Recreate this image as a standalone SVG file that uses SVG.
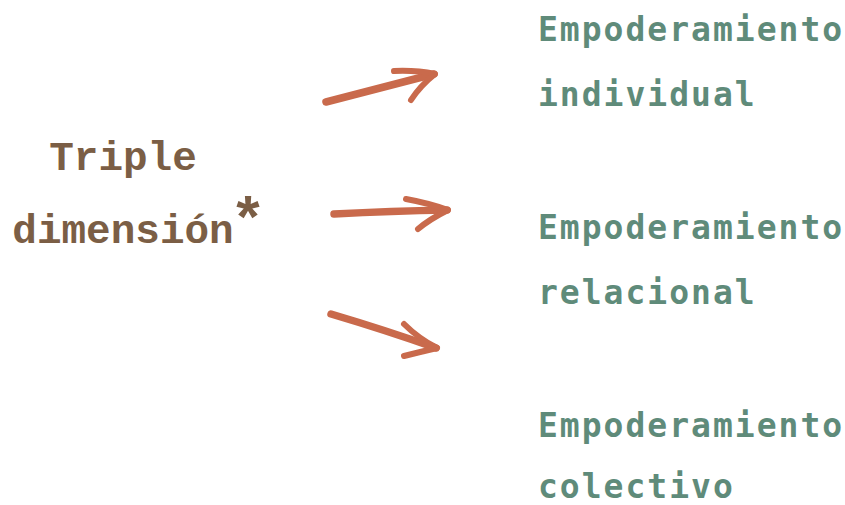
<svg xmlns="http://www.w3.org/2000/svg" width="845" height="505" viewBox="0 0 845 505">
  <style>
    .src { font-family: "Liberation Mono", "Courier New", monospace; font-weight: bold; font-size: 41px; fill: #7b5e45; }
    .star { font-size: 60px; }
    .dst { font-family: "DejaVu Sans Mono", "Liberation Mono", monospace; font-weight: bold; font-size: 33px; letter-spacing: 2px; fill: #5f8b7a; }
    .brush { fill: none; stroke: #c96a4c; stroke-width: 7.5; stroke-linecap: round; stroke-linejoin: round; }
    .barb { fill: none; stroke: #c96a4c; stroke-width: 6; stroke-linecap: round; stroke-linejoin: round; }
  </style>
  <rect width="845" height="505" fill="#ffffff"/>

  <g id="node-triple">
    <text class="src" x="123" y="170" text-anchor="middle">Triple</text>
    <text class="src" x="123" y="243" text-anchor="middle">dimensión</text>
    <text class="src star" x="248" y="239" text-anchor="middle">*</text>
  </g>

  <g id="node-individual">
    <text class="dst" x="538" y="41">Empoderamiento</text>
    <text class="dst" x="538" y="106">individual</text>
  </g>

  <g id="node-relacional">
    <text class="dst" x="538" y="239">Empoderamiento</text>
    <text class="dst" x="538" y="304">relacional</text>
  </g>

  <g id="node-colectivo">
    <text class="dst" x="538" y="437">Empoderamiento</text>
    <text class="dst" x="538" y="498">colectivo</text>
  </g>

  <g id="connectors">
    <g id="arrow-1">
      <path class="brush" d="M326 102 Q380 88 434 74"/>
      <path class="barb" d="M394 71 Q416 70 435 74 Q420 86 411 100"/>
    </g>
    <g id="arrow-2">
      <path class="brush" d="M334 214 Q392 211 447 210"/>
      <path class="barb" d="M406 199 Q428 203 448 210 Q430 219 418 229"/>
    </g>
    <g id="arrow-3">
      <path class="brush" d="M331 314 Q385 330 436 348"/>
      <path class="barb" d="M404 324 Q418 338 437 348 Q420 352 404 356"/>
    </g>
  </g>
</svg>
